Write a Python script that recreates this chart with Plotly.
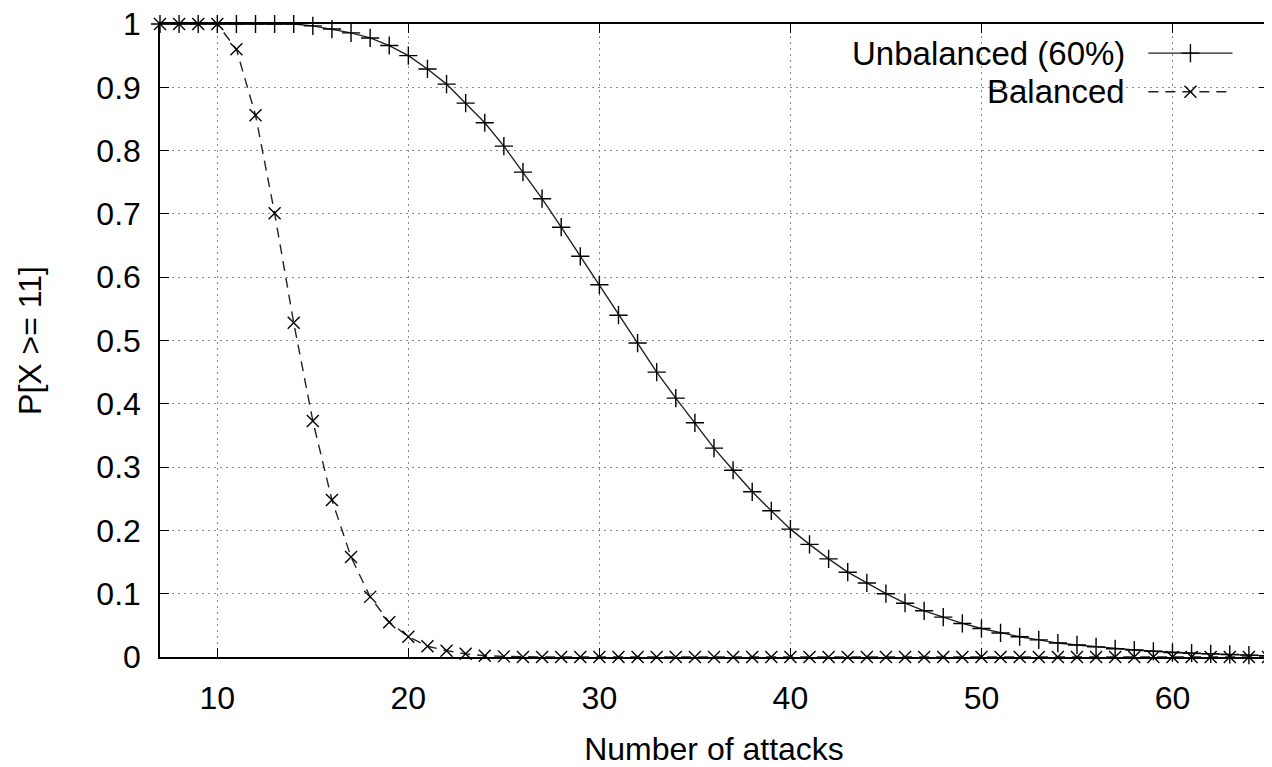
import plotly.graph_objects as go

# ---- data ----
attacks = list(range(7, 66))

unbalanced = [1.0, 1.0, 1.0, 1.0, 1.0, 1.0, 1.0, 1.0,           # 7-14
              0.997, 0.992, 0.986, 0.978, 0.966, 0.950, 0.929,  # 15-21
              0.905, 0.875, 0.844, 0.807, 0.766, 0.724, 0.679,  # 22-28
              0.633, 0.588, 0.540, 0.496, 0.450, 0.409, 0.370,  # 29-35
              0.330, 0.295, 0.261, 0.231, 0.202, 0.178, 0.155,  # 36-42
              0.134, 0.117, 0.100, 0.085, 0.073, 0.063, 0.053,  # 43-49
              0.045, 0.038, 0.032, 0.027, 0.022, 0.019, 0.016,  # 50-56
              0.013, 0.011, 0.009, 0.007, 0.006, 0.005, 0.004,  # 57-63
              0.003, 0.002]                                     # 64-65

balanced = [1.0, 1.0, 1.0, 1.0,                                 # 7-10
            0.960, 0.856, 0.701, 0.528, 0.373, 0.248, 0.158,    # 11-17
            0.095, 0.055, 0.032, 0.017, 0.010, 0.005, 0.002,    # 18-24
            0.001] + [0.0] * 40                                 # 25-65

series_names = ["Unbalanced (60%)", "Balanced"]
x_ticks = [10, 20, 30, 40, 50, 60]
y_ticks = [0, 0.1, 0.2, 0.3, 0.4, 0.5, 0.6, 0.7, 0.8, 0.9, 1]

# ---- styling ----
FONT = "Liberation Sans, Arial, Helvetica, sans-serif"
FS = 32
LEG_FS = 33
LINE_COL = "#222222"
GRID_COL = "#8a8a8a"

fig = go.Figure()

fig.add_trace(go.Scatter(
    x=attacks, y=unbalanced, mode="lines+markers", name=series_names[0],
    line=dict(color=LINE_COL, width=1.4),
    marker=dict(symbol="cross-thin", size=13, line=dict(color="black", width=1.4)),
    showlegend=False, cliponaxis=False))

fig.add_trace(go.Scatter(
    x=attacks, y=balanced, mode="lines+markers", name=series_names[1],
    line=dict(color=LINE_COL, width=1.4, dash="10px,7px"),
    marker=dict(symbol="x-thin", size=12, line=dict(color="black", width=1.4)),
    showlegend=False, cliponaxis=False))

# ---- custom legend (text left, key sample right, like gnuplot) ----
key_x = [0.892, 0.930, 0.968]
rows_y = [0.954, 0.893]
fig.add_trace(go.Scatter(
    x=key_x, y=[rows_y[0]] * 3, xaxis="x2", yaxis="y2", mode="lines",
    line=dict(color=LINE_COL, width=1.4), showlegend=False, hoverinfo="skip"))
fig.add_trace(go.Scatter(
    x=[key_x[1]], y=[rows_y[0]], xaxis="x2", yaxis="y2", mode="markers",
    marker=dict(symbol="cross-thin", size=13, line=dict(color="black", width=1.4)),
    showlegend=False, hoverinfo="skip"))
fig.add_trace(go.Scatter(
    x=key_x, y=[rows_y[1]] * 3, xaxis="x2", yaxis="y2", mode="lines",
    line=dict(color=LINE_COL, width=1.4, dash="10px,7px"), showlegend=False,
    hoverinfo="skip"))
fig.add_trace(go.Scatter(
    x=[key_x[1]], y=[rows_y[1]], xaxis="x2", yaxis="y2", mode="markers",
    marker=dict(symbol="x-thin", size=12, line=dict(color="black", width=1.4)),
    showlegend=False, hoverinfo="skip"))

for name, yy in zip(series_names, rows_y):
    fig.add_annotation(x=0.8727, y=yy, xref="paper", yref="paper", text=name,
                       showarrow=False, xanchor="right", yanchor="middle",
                       font=dict(family=FONT, size=LEG_FS, color="black"))

fig.add_shape(type="rect", xref="paper", yref="paper",
              x0=0.609, x1=0.985, y0=0.862, y1=0.986,
              fillcolor="white", line=dict(width=0), layer="between")

axis_common = dict(
    showline=True, linecolor="black", linewidth=1.5, mirror="ticks",
    ticks="inside", ticklen=9, tickwidth=1.2, tickcolor="black",
    showgrid=True, gridcolor=GRID_COL, gridwidth=1.2, griddash="2px,4px",
    zeroline=False, ticklabeloverflow="allow", automargin=False,
    tickfont=dict(family=FONT, size=FS, color="black"),
)

# the page body adds an 8px margin, so the figure is 8px smaller each way
fig.update_layout(
    width=1264, height=759,
    margin=dict(l=152, r=4, t=16, b=110, autoexpand=False),
    paper_bgcolor="white", plot_bgcolor="white",
    font=dict(family=FONT, size=FS, color="black"),
    xaxis=dict(range=[7, 65], tickvals=x_ticks, ticklabelstandoff=12,
               title=dict(text="Number of attacks", standoff=22,
                          font=dict(family=FONT, size=FS)),
               **axis_common),
    yaxis=dict(range=[0, 1], tickvals=y_ticks, ticklabelstandoff=11,
               title=dict(text="P[X >= 11]", standoff=45,
                          font=dict(family=FONT, size=FS)),
               **axis_common),
    xaxis2=dict(range=[0, 1], overlaying="x", visible=False, fixedrange=True),
    yaxis2=dict(range=[0, 1], overlaying="y", visible=False, fixedrange=True),
    showlegend=False,
)

fig.write_html("out.html")
